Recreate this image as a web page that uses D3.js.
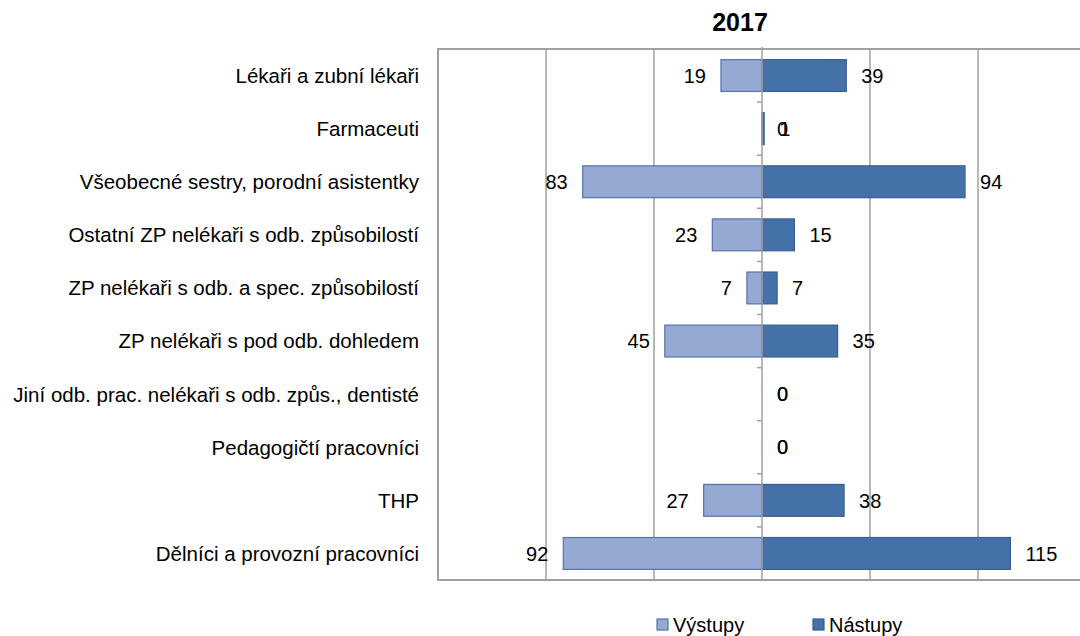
<!DOCTYPE html>
<html>
<head>
<meta charset="utf-8">
<script src="https://cdn.jsdelivr.net/npm/d3@7"></script>
<style>
  body { margin: 0; background: #fff; }
  text { font-family: "Liberation Sans", Arial, sans-serif; fill: #000; }
</style>
</head>
<body>
<div id="chart"></div>
<script>
var categories = [
  'Lékaři a zubní lékaři',
  'Farmaceuti',
  'Všeobecné sestry, porodní asistentky',
  'Ostatní ZP nelékaři s odb. způsobilostí',
  'ZP nelékaři s odb. a spec. způsobilostí',
  'ZP nelékaři s pod odb. dohledem',
  'Jiní odb. prac. nelékaři s odb. způs., dentisté',
  'Pedagogičtí pracovníci',
  'THP',
  'Dělníci a provozní pracovníci'
];
var vystupy = [19, 0, 83, 23, 7, 45, 0, 0, 27, 92];
var nastupy = [39, 1, 94, 15, 7, 35, 0, 0, 38, 115];
var gridValues = [-100, -50, 50, 100];
var title = '2017';

var light = '#95a9d3',
    lightStroke = '#5574a8',
    dark = '#4472a8',
    darkStroke = '#375f90',
    gridColor = '#a0a0a0';

var pic_width = 1080, pic_height = 636;

// plot area (right edge runs past the picture, as in the original)
var plot = { left: 438, top: 49, right: 1086, bottom: 580 };

var svg = d3.select('#chart').append('svg')
    .attr('width', pic_width)
    .attr('height', pic_height);

var xScale = d3.scaleLinear()
    .domain([-150, 150])
    .range([plot.left, plot.right]);

var yScale = d3.scaleBand()
    .domain(categories)
    .range([plot.top, plot.bottom])
    .paddingInner(0.4)
    .paddingOuter(0.2);

var step = yScale.step();

// gridlines
svg.append('g').selectAll('line').data(gridValues)
    .enter().append('line')
    .attr('x1', function(d) { return xScale(d); })
    .attr('x2', function(d) { return xScale(d); })
    .attr('y1', plot.top)
    .attr('y2', plot.bottom)
    .style('stroke', gridColor)
    .style('stroke-width', 1.5);

// plot border
svg.append('rect')
    .attr('x', plot.left)
    .attr('y', plot.top)
    .attr('width', plot.right - plot.left)
    .attr('height', plot.bottom - plot.top)
    .style('fill', 'none')
    .style('stroke', gridColor)
    .style('stroke-width', 2);

// bars
var bars = svg.append('g');
bars.selectAll('rect.vy').data(vystupy)
    .enter().append('rect').attr('class', 'vy')
    .attr('x', function(d) { return xScale(-d); })
    .attr('y', function(d, i) { return yScale(categories[i]); })
    .attr('width', function(d) { return xScale(0) - xScale(-d); })
    .attr('height', yScale.bandwidth())
    .style('fill', light)
    .style('stroke', function(d) { return d > 0 ? lightStroke : 'none'; })
    .style('stroke-width', 1.2);

bars.selectAll('rect.na').data(nastupy)
    .enter().append('rect').attr('class', 'na')
    .attr('x', xScale(0))
    .attr('y', function(d, i) { return yScale(categories[i]); })
    .attr('width', function(d) { return xScale(d) - xScale(0); })
    .attr('height', yScale.bandwidth())
    .style('fill', dark)
    .style('stroke', function(d) { return d > 0 ? darkStroke : 'none'; })
    .style('stroke-width', 1.2);

// center axis with small ticks
var cx = xScale(0);
svg.append('line')
    .attr('x1', cx).attr('x2', cx)
    .attr('y1', plot.top - 2).attr('y2', plot.bottom)
    .style('stroke', gridColor)
    .style('stroke-width', 1.5);
svg.append('g').selectAll('line').data(d3.range(categories.length + 1))
    .enter().append('line')
    .attr('x1', cx - 5).attr('x2', cx)
    .attr('y1', function(i) { return plot.top + i * step; })
    .attr('y2', function(i) { return plot.top + i * step; })
    .style('stroke', gridColor)
    .style('stroke-width', 1.5);

// value labels (zero outflows sit on the right, like the original)
var valueSize = '20px', gap = 15;
svg.append('g').selectAll('text').data(vystupy)
    .enter().append('text')
    .attr('x', function(d) { return d > 0 ? xScale(-d) - gap : xScale(0) + gap; })
    .attr('y', function(d, i) { return yScale(categories[i]) + yScale.bandwidth() / 2; })
    .attr('dy', '0.36em')
    .attr('text-anchor', function(d) { return d > 0 ? 'end' : 'start'; })
    .style('font-size', valueSize)
    .text(function(d) { return d; });

svg.append('g').selectAll('text').data(nastupy)
    .enter().append('text')
    .attr('x', function(d) { return xScale(d) + gap; })
    .attr('y', function(d, i) { return yScale(categories[i]) + yScale.bandwidth() / 2; })
    .attr('dy', '0.36em')
    .style('font-size', valueSize)
    .text(function(d) { return d; });

// category labels
svg.append('g').selectAll('text').data(categories)
    .enter().append('text')
    .attr('x', 419)
    .attr('y', function(d) { return yScale(d) + yScale.bandwidth() / 2; })
    .attr('dy', '0.36em')
    .attr('text-anchor', 'end')
    .style('font-size', '20.5px')
    .text(function(d) { return d; });

// title
svg.append('text')
    .attr('x', 740)
    .attr('y', 31)
    .attr('text-anchor', 'middle')
    .style('font-size', '25px')
    .style('font-weight', 'bold')
    .text(title);

// legend
var legend = [
  { name: 'Výstupy', fill: light, stroke: lightStroke, x: 657 },
  { name: 'Nástupy', fill: dark, stroke: darkStroke, x: 813 }
];
var lg = svg.append('g').selectAll('g').data(legend)
    .enter().append('g')
    .attr('transform', function(d) { return 'translate(' + d.x + ', 619)'; });
lg.append('rect')
    .attr('width', 11).attr('height', 11)
    .style('fill', function(d) { return d.fill; })
    .style('stroke', function(d) { return d.stroke; })
    .style('stroke-width', 1.2);
lg.append('text')
    .attr('x', 16)
    .attr('y', 6)
    .attr('dy', '0.36em')
    .style('font-size', '20px')
    .text(function(d) { return d.name; });
</script>
</body>
</html>
